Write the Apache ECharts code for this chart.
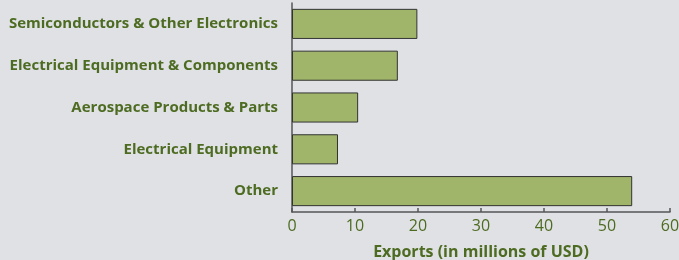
<!DOCTYPE html>
<html>
<head>
<meta charset="utf-8" />
<title>Exports</title>
<style type="text/css">
	html, body {margin:0;padding:0;background:#dfe1e5;}
	#chart {width:679px;height:260px;}
</style>
</head>
<body>
<div id="chart"></div>
<script src="https://cdn.jsdelivr.net/npm/echarts@6/dist/echarts.min.js"></script>
<script type="text/javascript">
// categories listed bottom to top (ECharts y category order)
const categories = ['Other', 'Electrical Equipment', 'Aerospace Products & Parts', 'Electrical Equipment & Components', 'Semiconductors & Other Electronics'];
const exportValues = [54.0, 7.3, 10.5, 16.8, 19.9];
const xTicks = [0, 10, 20, 30, 40, 50, 60];

const green = '#4d6b21';
const chart = echarts.init(document.getElementById('chart'));
chart.setOption({
	backgroundColor: '#dfe1e5',
	animation: false,
	grid: {left: 292, right: 9, top: 3, bottom: 48, containLabel: false, outerBoundsMode: 'none'},
	xAxis: {
		type: 'value',
		min: xTicks[0],
		max: xTicks[xTicks.length - 1],
		interval: 10,
		name: 'Exports (in millions of USD)',
		nameLocation: 'middle',
		nameGap: 32,
		nameTextStyle: {color: green, fontFamily: 'Open Sans', fontWeight: 'bold', fontSize: 16},
		axisLine: {show: true, lineStyle: {color: '#555', width: 1.5}},
		axisTick: {show: true, inside: true, length: 4, lineStyle: {color: '#555', width: 1.5}},
		axisLabel: {color: green, fontFamily: 'Open Sans', fontSize: 16, margin: 6},
		splitLine: {show: false}
	},
	yAxis: {
		type: 'category',
		data: categories,
		axisLine: {show: true, lineStyle: {color: '#555', width: 1.5}},
		axisTick: {show: false},
		axisLabel: {color: green, fontFamily: 'Open Sans', fontWeight: 'bold', fontSize: 15, margin: 14}
	},
	series: [{
		type: 'bar',
		data: exportValues,
		barCategoryGap: '28%',
		itemStyle: {color: '#a1b56a', borderColor: '#333', borderWidth: 1}
	}]
});
</script>
</body>
</html>
